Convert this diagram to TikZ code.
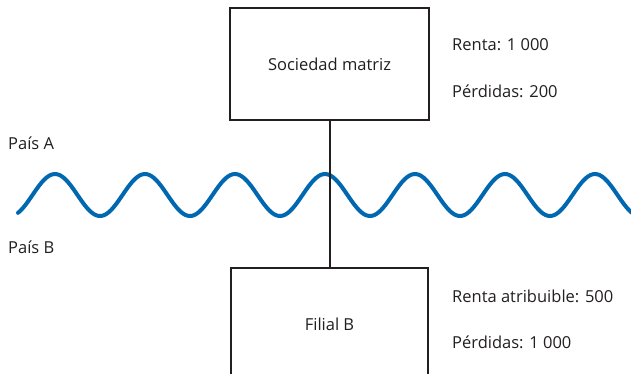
\documentclass[tikz,border=0pt]{standalone}
\usepackage{fontspec}
\setmainfont{Open Sans}
\definecolor{ink}{HTML}{231F20}
\definecolor{wave}{HTML}{0067B1}
\begin{document}
\begin{tikzpicture}[x=1pt,y=-1pt,
  entity/.style={draw=ink, line width=2pt, fill=white, inner sep=0pt},
  lbl/.style={text=ink, font=\fontsize{16.5}{19}\selectfont, inner sep=0pt},
  note/.style={lbl, anchor=west}]
  \clip (0,0) rectangle (631,373);
  \fill[white] (0,0) rectangle (631,373);

  % border between the two countries
  \draw[wave, line width=4pt, line cap=round]
    plot[smooth, domain=18:636, samples=260] (\x,{195-21*cos(4*(\x-55))});

  % entities
  \node[entity, minimum width=199pt, minimum height=112pt] (parent) at (329.5,64) {};
  \node[entity, minimum width=197pt, minimum height=112pt] (sub) at (329.5,324) {};
  \node[lbl] at (parent.center) {Sociedad matriz};
  \node[lbl] at (sub.center) {Filial B};

  % ownership link
  \draw[ink, line width=2pt] (parent.south) -- (sub.north);

  % figures for each entity
  \node[note] (r1) at (452,45) {Renta: 1 000};
  \node[note] (p1) at (452,91) {Pérdidas: 200};
  \node[note] (r2) at (452,296) {Renta atribuible: 500};
  \node[note] (p2) at (452,342) {Pérdidas: 1 000};

  % countries
  \node[note] (a) at (8,143) {País A};
  \node[note] (b) at (8,247) {País B};
\end{tikzpicture}
\end{document}
